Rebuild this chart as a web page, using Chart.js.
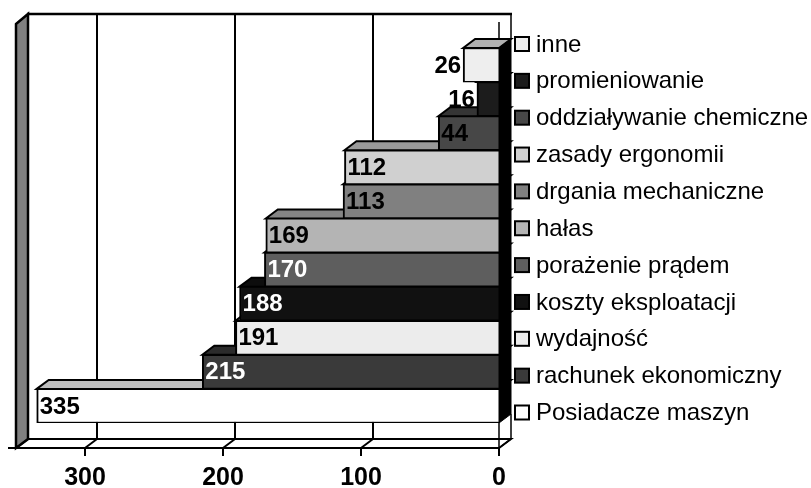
<!DOCTYPE html>
<html>
<head>
<meta charset="utf-8">
<script src="https://cdn.jsdelivr.net/npm/chart.js@4.4.0/dist/chart.umd.min.js"></script>
<style>
  html, body { margin: 0; padding: 0; background: #fff; }
  #wrap { width: 811px; height: 488px; }
</style>
</head>
<body>
<div id="wrap"><canvas id="myChart"></canvas></div>
<script>
const categories = ['inne', 'promieniowanie', 'oddziaływanie chemiczne', 'zasady ergonomii',
  'drgania mechaniczne', 'hałas', 'porażenie prądem', 'koszty eksploatacji',
  'wydajność', 'rachunek ekonomiczny', 'Posiadacze maszyn']
const values = [26, 16, 44, 112, 113, 169, 170, 188, 191, 215, 335]
const tickValues = [0, 100, 200, 300]

// kolory slupkow (szarosci jak w Excelu)
const barColors = ['#eeeeee', '#1c1c1c', '#474747', '#d0d0d0', '#808080', '#b4b4b4',
  '#5e5e5e', '#111111', '#ececec', '#3a3a3a', '#ffffff']
const labelColors = ['#000', '#000', '#000', '#000', '#000', '#000', '#fff', '#fff', '#000', '#fff', '#000']

const DX = 12, DY = 9

function shade(hex, f) {
  const n = parseInt(hex.slice(1), 16)
  const r = Math.round(((n >> 16) & 255) * f), g = Math.round(((n >> 8) & 255) * f), b = Math.round((n & 255) * f)
  return `rgb(${r},${g},${b})`
}

function poly(ctx, pts, fill, lw) {
  ctx.beginPath()
  ctx.moveTo(pts[0][0], pts[0][1])
  pts.slice(1).forEach(p => ctx.lineTo(p[0], p[1]))
  ctx.closePath()
  if (fill) { ctx.fillStyle = fill; ctx.fill() }
  if (lw) { ctx.lineWidth = lw; ctx.strokeStyle = '#000'; ctx.stroke() }
}

function line(ctx, x1, y1, x2, y2, lw) {
  ctx.beginPath()
  ctx.moveTo(x1, y1)
  ctx.lineTo(x2, y2)
  ctx.lineWidth = lw
  ctx.strokeStyle = '#000'
  ctx.stroke()
}

// sciany, podloga, siatka i gorne sciany slupkow
const walls = {
  id: 'walls',
  beforeDatasetsDraw(chart) {
    const ctx = chart.ctx
    const { left, right, top, bottom } = chart.chartArea
    const xs = chart.scales.x
    const floorY = bottom + 25
    const wallTop = 14
    ctx.save()
    // tylna sciana
    ctx.fillStyle = '#fff'
    ctx.fillRect(left + DX, wallTop, right - left, floorY - DY - wallTop)
    line(ctx, left + DX - 1, wallTop, right + DX + 1, wallTop, 2.5)
    line(ctx, right + DX, wallTop, right + DX, top - DY, 1.5)
    line(ctx, right, wallTop + 8, right, top, 1.5)
    // podloga
    poly(ctx, [[left + DX, floorY - DY], [right + DX, floorY - DY], [right, floorY], [left, floorY]], '#fff', 2)
    // linie siatki
    tickValues.forEach(v => {
      if (v === 0) return
      const x = xs.getPixelForValue(v)
      line(ctx, x + DX, wallTop, x + DX, floorY - DY, 2)
      line(ctx, x + DX, floorY - DY, x, floorY, 2)
      line(ctx, x, floorY, x, floorY + 8, 2)
    })
    line(ctx, right, floorY, right, floorY + 8, 2)
    // lewa sciana
    poly(ctx, [[left, wallTop + DY + 1], [left + DX, wallTop], [left + DX, floorY - DY], [left, floorY]], '#808080', 2.5)
    line(ctx, left - 8, floorY, right, floorY, 2)
    // gorne sciany slupkow
    const meta = chart.getDatasetMeta(0)
    meta.data.forEach((el, i) => {
      const yt = el.y - el.height / 2
      poly(ctx, [[el.x, yt], [el.x + DX, yt - DY], [el.base + DX, yt - DY], [el.base, yt]], shade(barColors[i], 0.74), 2)
    })
    ctx.restore()
  },
  afterDatasetsDraw(chart) {
    const ctx = chart.ctx
    const { right, top, bottom } = chart.chartArea
    const floorY = bottom + 25
    ctx.save()
    // prawa (czarna) sciana slupkow
    poly(ctx, [[right, top], [right + DX, top - DY], [right + DX, bottom - DY], [right, bottom]], '#000', 1)
    line(ctx, right, bottom, right, floorY, 1.5)
    line(ctx, right + DX, bottom - DY, right + DX, floorY - DY, 1.5)
    line(ctx, right + DX, floorY - DY, right, floorY, 1.5)
    // etykiety wartosci
    ctx.font = 'bold 24px "Liberation Sans", Arial, sans-serif'
    ctx.textBaseline = 'middle'
    const meta = chart.getDatasetMeta(0)
    meta.data.forEach((el, i) => {
      const txt = String(values[i])
      const w = ctx.measureText(txt).width
      ctx.fillStyle = labelColors[i]
      if (w + 14 < el.base - el.x) {
        ctx.textAlign = 'left'
        ctx.fillText(txt, el.x + 3, el.y + 1)
      } else {
        ctx.textAlign = 'right'
        ctx.fillStyle = '#000'
        ctx.fillText(txt, el.x - 2, el.y + 1)
      }
    })
    ctx.restore()
  }
}

// legenda po prawej
const legendRight = {
  id: 'legendRight',
  afterDraw(chart) {
    const ctx = chart.ctx
    const x0 = chart.chartArea.right + 16
    ctx.save()
    ctx.font = '24px "Liberation Sans", Arial, sans-serif'
    ctx.textBaseline = 'middle'
    ctx.textAlign = 'left'
    categories.forEach((c, i) => {
      const y = 44 + i * 36.85
      ctx.fillStyle = barColors[i]
      ctx.fillRect(x0, y - 7, 14, 14)
      ctx.lineWidth = 2
      ctx.strokeStyle = '#000'
      ctx.strokeRect(x0, y - 7, 14, 14)
      ctx.fillStyle = '#000'
      ctx.fillText(c, x0 + 21, y + 1)
    })
    ctx.restore()
  }
}

const ctx = document.getElementById('myChart')

new Chart(ctx, {
  type: 'bar',
  data: {
    labels: categories,
    datasets: [{
      data: values,
      backgroundColor: barColors,
      borderColor: '#000',
      borderWidth: { top: 1.5, bottom: 1.5, left: 2, right: 0 },
      borderSkipped: false,
      barPercentage: 1,
      categoryPercentage: 1
    }]
  },
  options: {
    indexAxis: 'y',
    responsive: true,
    maintainAspectRatio: false,
    animation: false,
    devicePixelRatio: 1,
    layout: { padding: { left: 16, right: 312, top: 48, bottom: 0 } },
    plugins: { legend: { display: false }, tooltip: { enabled: false } },
    scales: {
      x: {
        type: 'linear',
        reverse: true,
        min: 0,
        max: 350,
        grid: { display: false, drawTicks: false },
        border: { display: false },
        afterBuildTicks: s => { s.ticks = tickValues.map(v => ({ value: v })) },
        afterFit: s => { s.height = 65 },
        ticks: {
          padding: 40,
          color: '#000',
          maxRotation: 0,
          font: { family: '"Liberation Sans", Arial, sans-serif', size: 25, weight: 'bold' }
        }
      },
      y: { display: false }
    }
  },
  plugins: [walls, legendRight]
})
</script>
</body>
</html>
